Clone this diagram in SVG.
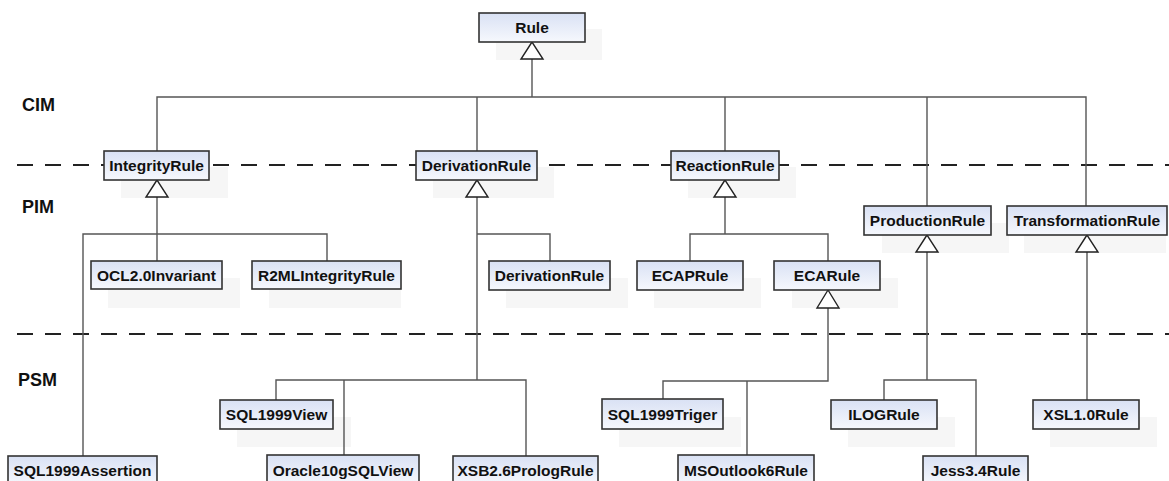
<svg xmlns="http://www.w3.org/2000/svg" width="1169" height="481" viewBox="0 0 1169 481">
<defs>
<linearGradient id="g" x1="0" y1="0" x2="0" y2="1">
<stop offset="0" stop-color="#d9e1f4"/>
<stop offset="1" stop-color="#f6f8fd"/>
</linearGradient>
</defs>
<style>
.box{fill:url(#g);stroke:#333;stroke-width:1.6}
.sh{fill:#f6f6f6}
.t{font-family:"Liberation Sans",Arial,sans-serif;font-weight:bold;font-size:15.5px;fill:#111;text-anchor:middle;dominant-baseline:central}
.lvl{font-family:"Liberation Sans",Arial,sans-serif;font-weight:bold;font-size:18px;fill:#111}
.c{fill:none;stroke:#555;stroke-width:1.4}
.tri{fill:#fff;stroke:#222;stroke-width:1.4}
.dash{stroke:#222;stroke-width:2.2;stroke-dasharray:16 12}
</style>
<rect width="1169" height="481" fill="#fff"/>
<g id="shadows">
<rect class="sh" x="496" y="29" width="106" height="31"/>
<rect class="sh" x="121" y="167" width="107" height="31"/>
<rect class="sh" x="433" y="167" width="121" height="31"/>
<rect class="sh" x="688" y="167" width="108" height="31"/>
<rect class="sh" x="882" y="223" width="127" height="30"/>
<rect class="sh" x="1024" y="223" width="142" height="30"/>
<rect class="sh" x="108" y="278" width="132" height="30"/>
<rect class="sh" x="269" y="278" width="132" height="30"/>
<rect class="sh" x="506" y="278" width="122" height="30"/>
<rect class="sh" x="654" y="278" width="107" height="30"/>
<rect class="sh" x="792" y="278" width="106" height="30"/>
<rect class="sh" x="237" y="417" width="114" height="30"/>
<rect class="sh" x="619" y="417" width="122" height="30"/>
<rect class="sh" x="848" y="417" width="107" height="30"/>
<rect class="sh" x="1050" y="417" width="107" height="30"/>
</g>
<g id="dividers">
<line class="dash" x1="17" y1="165" x2="1169" y2="165"/>
<line class="dash" x1="17" y1="334" x2="1169" y2="334"/>
</g>
<g id="levels">
<text class="lvl" x="22" y="111">CIM</text>
<text class="lvl" x="22" y="213">PIM</text>
<text class="lvl" x="18" y="386">PSM</text>
</g>
<g id="connectors">
<polyline class="c" points="532,59 532,97"/>
<polyline class="c" points="157,151 157,97 1086,97 1086,206"/>
<polyline class="c" points="477,97 477,151"/>
<polyline class="c" points="725,97 725,151"/>
<polyline class="c" points="927,97 927,206"/>
<polyline class="c" points="157,197 157,261"/>
<polyline class="c" points="83,456 83,234 327,234 327,261"/>
<polyline class="c" points="477,197 477,380"/>
<polyline class="c" points="477,234 550,234 550,261"/>
<polyline class="c" points="276,400 276,380 526,380 526,456"/>
<polyline class="c" points="344,380 344,456"/>
<polyline class="c" points="725,197 725,234"/>
<polyline class="c" points="690,261 690,234 828,234 828,261"/>
<polyline class="c" points="828,308 828,381 663,381 663,399"/>
<polyline class="c" points="747,381 747,456"/>
<polyline class="c" points="927,252 927,380"/>
<polyline class="c" points="884,400 884,380 976,380 976,456"/>
<polyline class="c" points="1087,252 1087,400"/>
<polygon class="tri" points="532,42 521,59 543,59"/>
<polygon class="tri" points="157,180 146,197 168,197"/>
<polygon class="tri" points="477,180 466,197 488,197"/>
<polygon class="tri" points="725,180 714,197 736,197"/>
<polygon class="tri" points="828,290 817,308 839,308"/>
<polygon class="tri" points="927,235 916,252 938,252"/>
<polygon class="tri" points="1087,235 1076,252 1098,252"/>
</g>
<g id="n-rule"><rect class="box" x="479" y="13" width="106" height="29"/><text class="t" x="532" y="27.5">Rule</text></g>
<g id="n-integrity"><rect class="box" x="104" y="151" width="105" height="29"/><text class="t" x="156.5" y="165.5">IntegrityRule</text></g>
<g id="n-derivation"><rect class="box" x="416" y="151" width="121" height="29"/><text class="t" x="476.5" y="165.5">DerivationRule</text></g>
<g id="n-reaction"><rect class="box" x="671" y="151" width="108" height="29"/><text class="t" x="725" y="165.5">ReactionRule</text></g>
<g id="n-production"><rect class="box" x="864" y="206" width="127" height="29"/><text class="t" x="927.5" y="220.5">ProductionRule</text></g>
<g id="n-transformation"><rect class="box" x="1007" y="206" width="160" height="29"/><text class="t" x="1087" y="220.5">TransformationRule</text></g>
<g id="n-ocl"><rect class="box" x="91" y="261" width="131" height="28"/><text class="t" x="156.5" y="275">OCL2.0Invariant</text></g>
<g id="n-r2ml"><rect class="box" x="252" y="261" width="149" height="28"/><text class="t" x="326.5" y="275">R2MLIntegrityRule</text></g>
<g id="n-derivation2"><rect class="box" x="489" y="261" width="121" height="29"/><text class="t" x="549.5" y="275.5">DerivationRule</text></g>
<g id="n-ecap"><rect class="box" x="637" y="261" width="106" height="29"/><text class="t" x="690" y="275.5">ECAPRule</text></g>
<g id="n-eca"><rect class="box" x="774" y="261" width="106" height="29"/><text class="t" x="827" y="275.5">ECARule</text></g>
<g id="n-sqlview"><rect class="box" x="220" y="400" width="113" height="29"/><text class="t" x="276.5" y="414.5">SQL1999View</text></g>
<g id="n-trigger"><rect class="box" x="602" y="399" width="121" height="30"/><text class="t" x="662.5" y="414">SQL1999Triger</text></g>
<g id="n-ilog"><rect class="box" x="831" y="400" width="106" height="29"/><text class="t" x="884" y="414.5">ILOGRule</text></g>
<g id="n-xsl"><rect class="box" x="1033" y="400" width="106" height="29"/><text class="t" x="1086" y="414.5">XSL1.0Rule</text></g>
<g id="n-assertion"><rect class="box" x="8" y="456" width="149" height="29"/><text class="t" x="82.5" y="470">SQL1999Assertion</text></g>
<g id="n-oracle"><rect class="box" x="267" y="455" width="152" height="30"/><text class="t" x="343" y="470">Oracle10gSQLView</text></g>
<g id="n-xsb"><rect class="box" x="453" y="456" width="145" height="29"/><text class="t" x="525.5" y="470">XSB2.6PrologRule</text></g>
<g id="n-outlook"><rect class="box" x="678" y="455" width="136" height="30"/><text class="t" x="746" y="470">MSOutlook6Rule</text></g>
<g id="n-jess"><rect class="box" x="923" y="456" width="105" height="29"/><text class="t" x="975.5" y="470">Jess3.4Rule</text></g>
</svg>
